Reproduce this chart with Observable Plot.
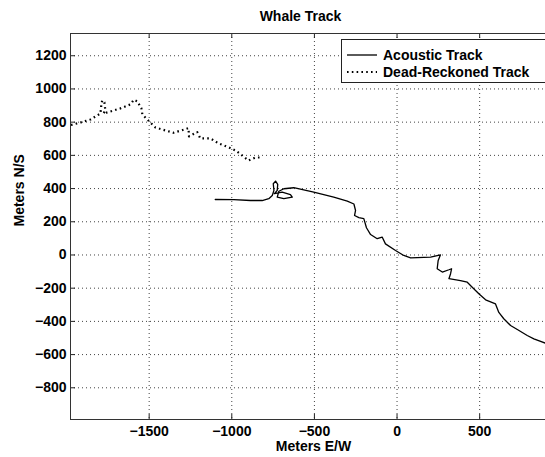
<!DOCTYPE html>
<html><head><meta charset="utf-8">
<script src="https://cdn.jsdelivr.net/npm/d3@7"></script>
<script src="https://cdn.jsdelivr.net/npm/@observablehq/plot@0.6"></script>
<style>
body{margin:0;background:#fff;}
#wrap{position:relative;width:545px;height:457px;overflow:hidden;font-family:"Liberation Sans",Arial,sans-serif;}
#wrap svg{max-width:none !important;}
#legend{position:absolute;left:341px;top:39px;}
</style></head><body><div id="wrap"></div>
<script>
// Acoustic track (meters E/W, meters N/S)
const acousticX = [-1100,-988,-887,-816,-776,-755,-745,-749,-735,-722,-725,-742,-695,-645,-634,-685,-725,-715,-685,-625,-504,-383,-301,-261,-251,-257,-231,-201,-185,-160,-120,-90,-70,-9,41,82,203,263,249,243,274,314,330,324,314,384,425,455,495,536,596,616,646,687,728,788,828,899,960];
const acousticY = [334,333,328,328,339,358,389,429,445,425,389,369,378,364,348,339,348,384,399,405,378,348,324,307,268,238,225,219,164,123,98,108,67,27,-3,-17,-13,1,-33,-83,-103,-89,-83,-113,-143,-154,-164,-194,-234,-270,-295,-346,-384,-425,-449,-485,-505,-532,-560];
// Dead-reckoned track
const deadX = [-1973,-1916,-1855,-1795,-1789,-1784,-1771,-1765,-1777,-1735,-1674,-1613,-1593,-1571,-1547,-1541,-1505,-1462,-1432,-1353,-1292,-1262,-1259,-1209,-1190,-1129,-1080,-1020,-978,-936,-899,-857,-815];
const deadY = [783,798,816,852,907,931,919,870,852,864,883,907,935,925,883,846,810,768,759,736,754,764,714,740,702,702,672,649,630,599,569,587,587];
const seriesNames = ["Acoustic Track", "Dead-Reckoned Track"];
const xTicks = [-1500, -1000, -500, 0, 500];
const yTicks = [-800, -600, -400, -200, 0, 200, 400, 600, 800, 1000, 1200];
const titleText = "Whale Track";
const xLabel = "Meters E/W";
const yLabel = "Meters N/S";

const W = 556, H = 457, mT = 33, mB = 38, mL = 70, mR = 0;
const frameH = H - mT - mB;
const acoustic = acousticX.map((x, i) => ({x, y: acousticY[i]}));
const dead = deadX.map((x, i) => ({x, y: deadY[i]}));
const font = "Liberation Sans, Arial, sans-serif";
const ink = "#222";
const fmt = d => (d < 0 ? "\u2212" + (-d) : String(d));

const chart = Plot.plot({
  width: W, height: H,
  marginTop: mT, marginBottom: mB, marginLeft: mL, marginRight: mR,
  style: {fontFamily: font, background: "#fff", color: "#000", maxWidth: "none"},
  x: {domain: [-1976, 965]},
  y: {domain: [-991, 1334]},
  marks: [
    Plot.gridX(xTicks, {stroke: ink, strokeOpacity: 0.85, strokeDasharray: "1,3"}),
    Plot.gridY(yTicks, {stroke: ink, strokeOpacity: 0.85, strokeDasharray: "1,3"}),
    Plot.tickX(xTicks, {x: d => d, insetTop: frameH - 5, stroke: ink}),
    Plot.tickX(xTicks, {x: d => d, insetBottom: frameH - 5, stroke: ink}),
    Plot.tickY(yTicks, {y: d => d, insetRight: W - mL - mR - 5, stroke: ink}),
    Plot.axisX(xTicks, {tickSize: 0, tickPadding: 7, fontSize: 14, fontWeight: "bold", label: null, fill: "#000", tickFormat: fmt}),
    Plot.axisY(yTicks, {tickSize: 0, tickPadding: 4, fontSize: 14, fontWeight: "bold", label: null, fill: "#000", tickFormat: fmt}),
    Plot.line(dead, {x: "x", y: "y", stroke: "#000", strokeWidth: 2.2, strokeDasharray: "1.6,3.2", strokeLinecap: "butt"}),
    Plot.line(acoustic, {x: "x", y: "y", stroke: "#000", strokeWidth: 1.3}),
    Plot.frame({stroke: "#333"}),
    Plot.text([titleText], {frameAnchor: "top", lineAnchor: "middle", dy: -17, dx: -13, fontSize: 14, fontWeight: "bold", fill: "#000"}),
    Plot.text([xLabel], {frameAnchor: "bottom", lineAnchor: "middle", dy: 27, fontSize: 14, fontWeight: "bold", fill: "#000"}),
    Plot.text([yLabel], {frameAnchor: "left", dx: -51, rotate: -90, fontSize: 14, fontWeight: "bold", fill: "#000"})
  ]
});
const wrap = document.getElementById("wrap");
wrap.appendChild(chart);

// Legend overlay
const lg = d3.select(wrap).append("svg").attr("id", "legend").attr("width", 230).attr("height", 46)
  .style("font-family", font);
lg.append("rect").attr("x", 0.5).attr("y", 0.5).attr("width", 228).attr("height", 43)
  .attr("fill", "#fff").attr("stroke", "#222");
const styles = [{dash: null, w: 1.3}, {dash: "1.6,3.2", w: 2.2}];
seriesNames.forEach((name, i) => {
  const yy = 16 + i * 17;
  lg.append("line").attr("x1", 6).attr("x2", 36).attr("y1", yy).attr("y2", yy)
    .attr("stroke", "#000").attr("stroke-width", styles[i].w)
    .attr("stroke-dasharray", styles[i].dash);
  lg.append("text").attr("x", 42).attr("y", yy).attr("dy", "0.35em")
    .attr("font-size", 14).attr("font-weight", "bold").text(name);
});
</script>
</body></html>
